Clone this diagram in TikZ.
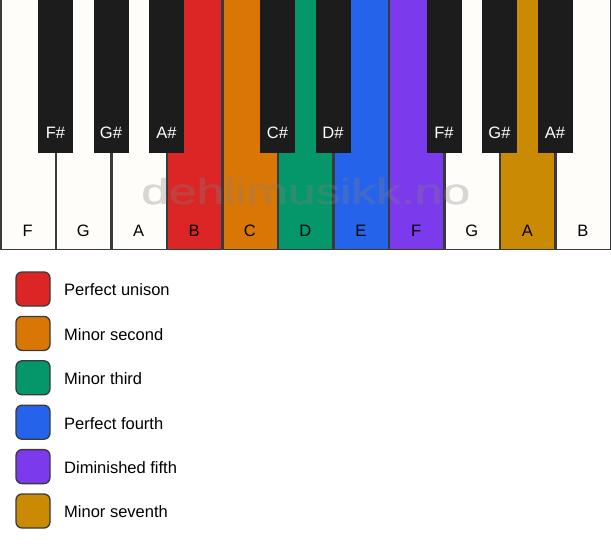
\documentclass[tikz,border=0pt]{standalone}
\usepackage{fontspec}
\setmainfont{Liberation Sans}
\definecolor{cRed}{HTML}{DC2626}
\definecolor{cOrange}{HTML}{D97706}
\definecolor{cGreen}{HTML}{059669}
\definecolor{cBlue}{HTML}{2563EB}
\definecolor{cPurple}{HTML}{7C3AED}
\definecolor{cGold}{HTML}{CA8A04}
\definecolor{cIvory}{HTML}{FFFDF9}
\definecolor{cBlack}{HTML}{1C1C1C}
\definecolor{cLine}{HTML}{3A3A3A}
\tikzset{
  whitekey/.style={draw=cLine, line width=1.5pt},
  blackkey/.style={fill=cBlack, draw=cBlack, line width=1pt},
  wlabel/.style={font=\fontsize{16.5}{19}\selectfont, text=black},
  blabel/.style={font=\fontsize{16.5}{19}\selectfont, text=white},
  swatch/.style={draw=cLine, line width=1.3pt, rounded corners=6pt, minimum width=34pt, minimum height=34pt, inner sep=0pt},
  legtext/.style={font=\fontsize{16.5}{19}\selectfont, anchor=west, inner sep=0pt},
  wmark/.style={anchor=base, font=\fontsize{36}{40}\selectfont, text=gray, xscale=1.38, inner sep=0pt},
}
\begin{document}
\begin{tikzpicture}[x=1pt,y=-1pt]
\useasboundingbox (0,0) rectangle (611,550);
\fill[white] (0,0) rectangle (611,550);
% white keys
\foreach \i/\n/\c in {0/F/cIvory,1/G/cIvory,2/A/cIvory,3/B/cRed,4/C/cOrange,5/D/cGreen,6/E/cBlue,7/F/cPurple,8/G/cIvory,9/A/cGold,10/B/cIvory}{
  \path[whitekey, fill=\c] ({\i*55.5+0.75},-2) rectangle ({(\i+1)*55.5-0.2},249.25);
  \node[wlabel] (w\i) at ({\i*55.5+27.75},230.5) {\n};
}
% black keys
\foreach \b/\n in {1/F\#,2/G\#,3/A\#,5/C\#,6/D\#,8/F\#,9/G\#,10/A\#}{
  \path[blackkey] ({\b*55.5-17},-2) rectangle ({\b*55.5+17},152.5);
  \node[blabel] (b\b) at ({\b*55.5},132.5) {\n};
}
% watermark
\begin{scope}[transparency group, opacity=0.3]
  \node[wmark] (wm) at (305.5,204.5) {dehlimusikk.no};
  \node[wmark] (wma) at (306.3,204.5) {dehlimusikk.no};
  \node[wmark] (wmb) at (305.9,204.1) {dehlimusikk.no};
\end{scope}
% legend
\foreach \k/\c/\t in {0/cRed/Perfect unison,1/cOrange/Minor second,2/cGreen/Minor third,3/cBlue/Perfect fourth,4/cPurple/Diminished fifth,5/cGold/Minor seventh}{
  \node[swatch, fill=\c] (s\k) at (33,{289+\k*44.4}) {};
  \node[legtext] (t\k) at (64,{290+\k*44.4}) {\t};
}
\end{tikzpicture}
\end{document}
